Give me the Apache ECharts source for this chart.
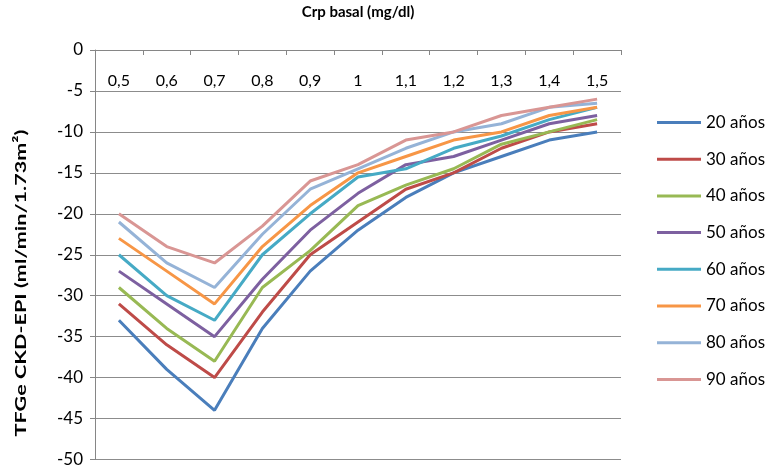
<!DOCTYPE html>
<html>
<head>
<meta charset="utf-8">
<script src="https://cdn.jsdelivr.net/npm/echarts@6/dist/echarts.min.js"></script>
<style>
html,body{margin:0;padding:0;background:#fff;}
#chart{width:769px;height:468px;}
</style>
</head>
<body>
<div id="chart"></div>
<script>
var categories = ['0,5','0,6','0,7','0,8','0,9','1','1,1','1,2','1,3','1,4','1,5'];
var seriesNames = ['20 años','30 años','40 años','50 años','60 años','70 años','80 años','90 años'];
var d20 = [-33,-39,-44,-34,-27,-22,-18,-15,-13,-11,-10];
var d30 = [-31,-36,-40,-32,-25,-21,-17,-15,-12,-10,-9];
var d40 = [-29,-34,-38,-29,-24.5,-19,-16.5,-14.5,-11.5,-10,-8.5];
var d50 = [-27,-31,-35,-28,-22,-17.5,-14,-13,-11,-9,-8];
var d60 = [-25,-30,-33,-25,-20,-15.5,-14.5,-12,-10.5,-8.5,-7];
var d70 = [-23,-27,-31,-24,-19,-15,-13,-11,-10,-8,-7];
var d80 = [-21,-26,-29,-22.5,-17,-14.5,-12,-10,-9,-7,-6.5];
var d90 = [-20,-24,-26,-21.5,-16,-14,-11,-10,-8,-7,-6];
var yTicks = {min:-50, max:0, interval:5};
var colors = ['#4A7EBB','#BE4B48','#98B954','#7D60A0','#46AAC5','#F79646','#95B3D7','#D99694'];
var allData = [d20,d30,d40,d50,d60,d70,d80,d90];

var chart = echarts.init(document.getElementById('chart'), null, {renderer:'canvas'});
var font = 'Lato, "Liberation Sans", sans-serif';
var option = {
  animation:false,
  color: colors,
  grid:{left:95, right:148, top:49, bottom:8, containLabel:false},
  legend:{
    orient:'vertical', left:652, top:109,
    icon:'rect', itemWidth:44, itemHeight:3, itemGap:19.7,
    textStyle:{fontFamily:font, fontSize:17, color:'#000', padding:[0,0,0,0], lineHeight:17},
    data: seriesNames
  },
  xAxis:{
    type:'category', position:'top', data:categories, boundaryGap:true,
    name:'Crp basal (mg/dl)', nameLocation:'middle', nameGap:30,
    nameTextStyle:{fontFamily:font, fontSize:15, fontWeight:'bold', color:'#000'},
    axisLine:{show:true, onZero:false, lineStyle:{color:'#868686', width:1}},
    axisTick:{show:true, inside:true, length:5, alignWithLabel:false, lineStyle:{color:'#868686'}},
    axisLabel:{inside:true, margin:23, fontFamily:font, fontSize:16, color:'#000'},
    splitLine:{show:false}
  },
  yAxis:{
    type:'value', min:yTicks.min, max:yTicks.max, interval:yTicks.interval,
    axisLine:{show:true, lineStyle:{color:'#868686', width:1}},
    axisTick:{show:true, length:5, lineStyle:{color:'#868686'}},
    axisLabel:{margin:12, fontFamily:font, fontSize:17, color:'#000'},
    splitLine:{show:true, lineStyle:{color:'#8c8c8c', width:1}}
  },
  graphic:[{
    type:'text', x:21, y:283, rotation:Math.PI/2, scaleX:1.35, scaleY:1,
    style:{text:'TFGe CKD-EPI (ml/min/1.73m²)', fontFamily:font, fontSize:16, fontWeight:'bold', fill:'#000', textAlign:'center', textVerticalAlign:'middle'}
  }],
  series: seriesNames.map(function(n,i){
    return {name:n, type:'line', data:allData[i], symbol:'none', lineStyle:{width:3, color:colors[i]}, itemStyle:{color:colors[i]}};
  })
};
chart.setOption(option);
</script>
</body>
</html>
